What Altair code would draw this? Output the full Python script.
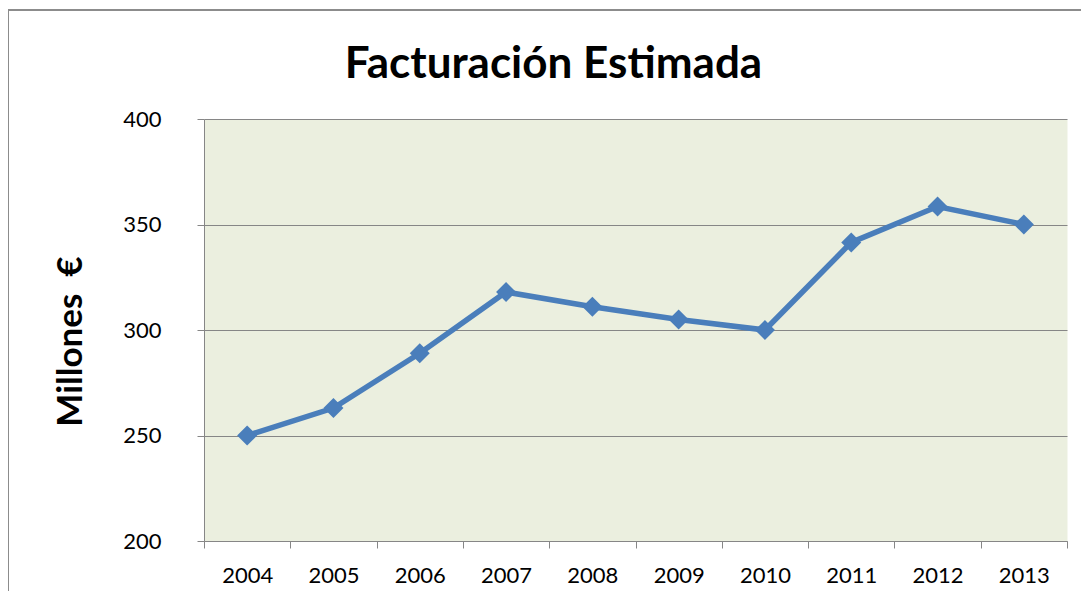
import altair as alt
import pandas as pd

years = ["2004", "2005", "2006", "2007", "2008", "2009", "2010", "2011", "2012", "2013"]
values = [250, 263, 289, 318, 311, 305, 300, 341.5, 358.5, 350]
y_ticks = [200, 250, 300, 350, 400]
title_text = ["Facturación Estimada"]

df = pd.DataFrame({"year": years, "value": values})

FONT = "Lato"
BLUE = "#4A7EBB"
GRAY = "#868686"

border = alt.Chart(pd.DataFrame({"d": [0]})).mark_rect(
    fill="transparent", stroke="#8C8C8C", strokeWidth=2, clip=False
).encode(x=alt.value(-196), x2=alt.value(1300), y=alt.value(-109), y2=alt.value(800))

title = alt.Chart(pd.DataFrame({"t": title_text})).mark_text(
    font=FONT, fontSize=44, fontWeight="bold", color="black",
    align="center", baseline="alphabetic", clip=False,
).encode(text="t:N", x=alt.value(349.5), y=alt.value(-41))

base = alt.Chart(df).encode(
    x=alt.X(
        "year:O",
        sort=years,
        scale=alt.Scale(type="band", paddingInner=0, paddingOuter=0),
        axis=alt.Axis(
            title=None, tickBand="extent", labelAngle=0, labelFontSize=22,
            labelFont=FONT, labelColor="black", labelPadding=17, tickSize=7,
            tickColor=GRAY, domainColor=GRAY, grid=False,
        ),
    ),
    y=alt.Y(
        "value:Q",
        scale=alt.Scale(domain=[200, 400], nice=False, zero=False),
        axis=alt.Axis(
            values=y_ticks, title="Millones\u00a0\u00a0€", titleFontSize=35, titleFont=FONT,
            titleFontWeight="bold", titleColor="black", titleX=-134, titleY=222,
            titleAngle=-90, titleAlign="center", titleBaseline="middle",
            labelFontSize=22, labelFont=FONT, labelColor="black", labelPadding=36,
            tickSize=7, tickColor=GRAY, domainColor=GRAY, gridColor=GRAY,
        ),
    ),
)

line = base.mark_line(color=BLUE, strokeWidth=5.5)
pts = base.mark_point(shape="diamond", filled=True, size=400, color=BLUE, opacity=1)

chart = alt.layer(border, line, pts, title).properties(
    width=863,
    height=422,
    autosize="none",
    padding={"left": 196, "top": 111, "right": 14, "bottom": 50},
).configure_view(fill="#EBEFDF", stroke="transparent")

chart.save("out.html", embed_options={"renderer": "svg", "actions": False})
